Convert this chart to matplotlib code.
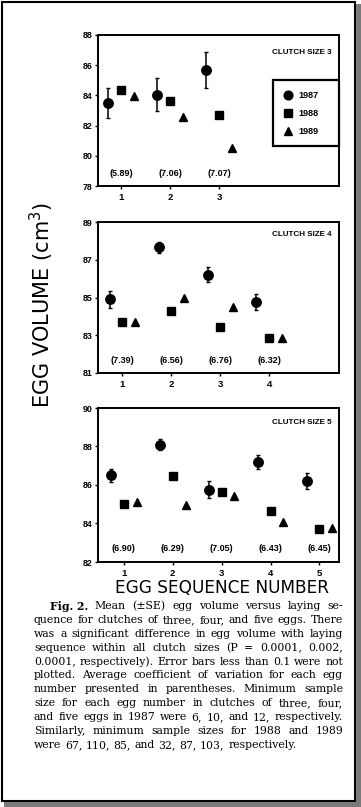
import matplotlib
matplotlib.use("Agg")
import matplotlib.pyplot as plt
from matplotlib.patches import Rectangle
from matplotlib.lines import Line2D

W, H, DPI = 361, 807, 100

years = ["1987", "1988", "1989"]

# ---- Clutch size 3 ----
cs3_egg = [1, 2, 3]
cs3_1987 = [83.5, 84.05, 85.7]
cs3_1987_se = [1.0, 1.1, 1.2]
cs3_1988 = [84.35, 83.6, 82.7]
cs3_1989 = [83.95, 82.6, 80.5]
cs3_cv = ["(5.89)", "(7.06)", "(7.07)"]
cs3_yticks = [78, 80, 82, 84, 86, 88]

# ---- Clutch size 4 ----
cs4_egg = [1, 2, 3, 4]
cs4_1987 = [84.9, 87.65, 86.2, 84.75]
cs4_1987_se = [0.45, 0.3, 0.4, 0.42]
cs4_1988 = [83.7, 84.3, 83.45, 82.85]
cs4_1989 = [83.7, 84.95, 84.5, 82.85]
cs4_cv = ["(7.39)", "(6.56)", "(6.76)", "(6.32)"]
cs4_yticks = [81, 83, 85, 87, 89]

# ---- Clutch size 5 ----
cs5_egg = [1, 2, 3, 4, 5]
cs5_1987 = [86.5, 88.1, 85.75, 87.2, 86.2]
cs5_1987_se = [0.33, 0.3, 0.45, 0.37, 0.4]
cs5_1988 = [85.0, 86.45, 85.65, 84.65, 83.7]
cs5_1989 = [85.1, 84.95, 85.45, 84.1, 83.75]
cs5_cv = ["(6.90)", "(6.29)", "(7.05)", "(6.43)", "(6.45)"]
cs5_yticks = [82, 84, 86, 88, 90]

caption_lines = [
    "Mean (\u00b1SE) egg volume versus laying se-",
    "quence for clutches of three, four, and five eggs. There",
    "was a significant difference in egg volume with laying",
    "sequence within all clutch sizes (P = 0.0001, 0.002,",
    "0.0001, respectively). Error bars less than 0.1 were not",
    "plotted. Average coefficient of variation for each egg",
    "number presented in parentheses. Minimum sample",
    "size for each egg number in clutches of three, four,",
    "and five eggs in 1987 were 6, 10, and 12, respectively.",
    "Similarly, minimum sample sizes for 1988 and 1989",
    "were 67, 110, 85, and 32, 87, 103, respectively.",
]

fig = plt.figure(figsize=(W / DPI, H / DPI), dpi=DPI)
fig.patch.set_facecolor("white")

def fx(px):
    return px / W

def fy(py):
    return 1 - py / H

LEFT, RIGHT = 98, 339
panels = [
    (cs3_egg, cs3_1987, cs3_1987_se, cs3_1988, cs3_1989, cs3_cv, cs3_yticks, "CLUTCH SIZE 3", 35, 186, (0.53, 5.45), 18),
    (cs4_egg, cs4_1987, cs4_1987_se, cs4_1988, cs4_1989, cs4_cv, cs4_yticks, "CLUTCH SIZE 4", 222, 373, (0.5, 5.43), 13),
    (cs5_egg, cs5_1987, cs5_1987_se, cs5_1988, cs5_1989, cs5_cv, cs5_yticks, "CLUTCH SIZE 5", 408, 562, (0.47, 5.4), 15),
]

tick_font = dict(family="Liberation Sans", weight="bold", size=6.4)
axes = []
for (egg, y87, se87, y88, y89, cv, yt, title, top, bot, xl, tdy) in panels:
    ax = fig.add_axes([fx(LEFT), fy(bot), fx(RIGHT - LEFT), (bot - top) / H])
    axes.append(ax)
    off = 0.26
    ax.errorbar([e - off for e in egg], y87, yerr=se87, fmt="o", color="black",
                ms=6.8, elinewidth=1.1, capsize=1.2, capthick=1.0, zorder=3)
    ax.plot(egg, y88, "s", color="black", ms=6.3, zorder=3)
    ax.plot([e + off for e in egg], y89, "^", color="black", ms=6.3, zorder=3)
    ax.set_xlim(*xl)
    ax.set_ylim(yt[0], yt[-1])
    ax.set_yticks(yt)
    ax.set_xticks(egg)
    ax.set_yticklabels([str(v) for v in yt], fontdict=tick_font)
    ax.set_xticklabels([str(v) for v in egg],
                       fontdict=dict(family="Liberation Sans", weight="bold", size=6.8))
    ax.tick_params(axis="y", direction="out", length=2.5, width=1.0, pad=1.2)
    ax.tick_params(axis="x", direction="out", length=2.5, width=1.0, pad=2.5)
    for s in ax.spines.values():
        s.set_linewidth(1.4)
    ycv = yt[0] + (yt[-1] - yt[0]) * 0.085
    for e, c in zip(egg, cv):
        ax.text(e, ycv, c, ha="center", va="center", family="Liberation Sans",
                weight="bold", size=6.5)
    ax.text(0.97, 1 - tdy / (bot - top), title,
            transform=ax.transAxes, ha="right", va="center",
            family="Liberation Sans", weight="bold", size=5.8)

# legend in first panel
ax1 = axes[0]
handles = [Line2D([], [], marker=m, ls="", color="black", ms=6.3) for m in ["o", "s", "^"]]
top1, bot1 = 35, 186
leg = ax1.legend(handles, years, loc="upper left",
                 bbox_to_anchor=((273 - LEFT) / (RIGHT - LEFT), 1 - (82 - top1) / (bot1 - top1),
                                 (RIGHT - 273) / (RIGHT - LEFT), 0.01),
                 mode="expand", fancybox=False, framealpha=1, edgecolor="black",
                 prop=dict(family="Liberation Sans", weight="bold", size=6.5),
                 handlelength=1.0, handletextpad=0.7, labelspacing=1.0,
                 borderpad=1.15, borderaxespad=0.0)
leg.get_frame().set_linewidth(1.6)

# axis labels
fig.text(fx(42), fy(305), "EGG VOLUME (cm$^3$)", rotation=90, ha="center", va="center",
         family="DejaVu Sans", size=15)
fig.text(fx(222), fy(588), "EGG SEQUENCE NUMBER", ha="center", va="center",
         family="DejaVu Sans", size=12.2)

# caption (justified)
renderer = fig.canvas.get_renderer()
cap_left, cap_right = 34, 343
line_y0, line_dy = 606, 13.9
family = "DejaVu Serif"

def word_width(t):
    return t.get_window_extent(renderer=renderer).width

base = 7.3
widest = 0.0
for line in caption_lines[1:]:
    t = fig.text(0, 0.5, line, family=family, size=base)
    widest = max(widest, word_width(t))
    t.remove()
size = base * (cap_right - cap_left) / widest * 0.99
cap_font = dict(family=family, size=size)

_t1 = fig.text(0, 0.5, "a a", **cap_font)
_t2 = fig.text(0, 0.5, "aa", **cap_font)
space = word_width(_t1) - word_width(_t2)
_t1.remove()
_t2.remove()

for li, line in enumerate(caption_lines):
    y = fy(line_y0 + li * line_dy)
    texts = []
    if li == 0:
        texts.append(fig.text(0, y, "Fig. 2.", va="center", ha="left", weight="bold", **cap_font))
    for w in line.split(" "):
        texts.append(fig.text(0, y, w, va="center", ha="left", **cap_font))
    widths = [word_width(t) for t in texts]
    start = 50 if li == 0 else cap_left
    if li == len(caption_lines) - 1:
        g = space
    else:
        g = max(space * 0.6, (cap_right - start - sum(widths)) / (len(texts) - 1))
    x = start
    for k, t in enumerate(texts):
        t.set_x(fx(x))
        x += widths[k] + g

# outer frame
fig.add_artist(Rectangle((fx(1.5), fy(800.5)), fx(353), 799 / H, transform=fig.transFigure,
                         fill=False, edgecolor="black", lw=1.5))
fig.add_artist(Rectangle((fx(356), 0), fx(5), fy(4), transform=fig.transFigure,
                         facecolor="#7a7a7a", edgecolor="none"))
fig.add_artist(Rectangle((fx(4), 0), fx(357), 5 / H, transform=fig.transFigure,
                         facecolor="#7a7a7a", edgecolor="none"))

fig.savefig("out.png", dpi=DPI)
